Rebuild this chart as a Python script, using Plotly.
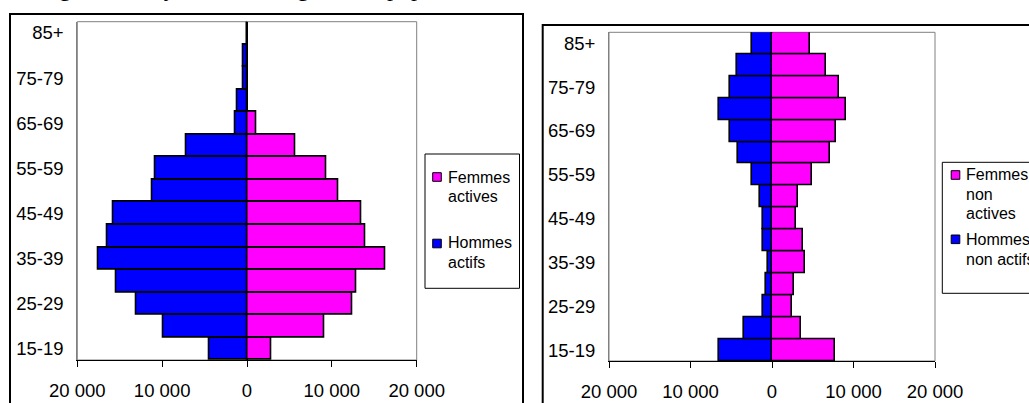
import plotly.graph_objects as go

W, H = 1029, 403

# ---------------- data ----------------
age_groups = ["15-19", "20-24", "25-29", "30-34", "35-39", "40-44", "45-49",
              "50-54", "55-59", "60-64", "65-69", "70-74", "75-79", "80-84", "85+"]
age_labels_shown = age_groups[::2]

femmes_actives = [2900, 9100, 12450, 12850, 16250, 13900, 13500,
                  10750, 9300, 5700, 1060, 0, 0, 0, 0]
hommes_actifs = [4450, 9900, 13100, 15450, 17550, 16450, 15800,
                 11200, 10800, 7200, 1330, 1100, 390, 470, 0]

femmes_non_actives = [7780, 3600, 2500, 2740, 4090, 3800, 2950,
                      3190, 4910, 7080, 7900, 9040, 8180, 6670, 4710]
hommes_non_actifs = [6500, 3430, 1100, 690, 490, 1100, 1100,
                     1510, 2410, 4130, 5190, 6500, 5190, 4330, 2410]

x_tickvals = [-20000, -10000, 0, 10000, 20000]
x_ticktext = ["20 000", "10 000", "0", "10 000", "20 000"]

title_text = ("Figure 12 : Pyramide des âges de la population "
              "active et non active selon le sexe et la commune, 1999")

PINK = "#FF00FF"
BLUE = "#0000FF"
FONT = "Liberation Sans, Arial, sans-serif"


def px(x):
    return x / W


def py(y):
    return 1 - y / H


fig = go.Figure()

bar_line = dict(color="black", width=1.6)
fig.add_trace(go.Bar(y=age_groups, x=femmes_actives, orientation="h",
                     marker=dict(color=PINK, line=bar_line),
                     name="Femmes actives", xaxis="x", yaxis="y", showlegend=False))
fig.add_trace(go.Bar(y=age_groups, x=[-v for v in hommes_actifs], orientation="h",
                     marker=dict(color=BLUE, line=bar_line),
                     name="Hommes actifs", xaxis="x", yaxis="y", showlegend=False))
fig.add_trace(go.Bar(y=age_groups, x=femmes_non_actives, orientation="h",
                     marker=dict(color=PINK, line=bar_line),
                     name="Femmes non actives", xaxis="x2", yaxis="y2", showlegend=False))
fig.add_trace(go.Bar(y=age_groups, x=[-v for v in hommes_non_actifs], orientation="h",
                     marker=dict(color=BLUE, line=bar_line),
                     name="Hommes non actifs", xaxis="x2", yaxis="y2", showlegend=False))

xax = dict(range=[-20000, 20000], tickvals=x_tickvals, ticktext=x_ticktext,
           ticks="outside", ticklen=6, tickcolor="black", tickwidth=1,
           showline=True, linecolor="black", linewidth=1,
           showgrid=False, zeroline=True, zerolinecolor="black", zerolinewidth=1,
           tickfont=dict(family=FONT, size=18.5, color="black"),
           ticklabelstandoff=8, automargin=False, fixedrange=True)
yax = dict(type="category", categoryorder="array", categoryarray=age_groups,
           range=[-0.5, 14.5], tickvals=age_labels_shown, ticks="",
           showline=True, linecolor="#808080", linewidth=1, showgrid=False,
           zeroline=False, tickfont=dict(family=FONT, size=18.5, color="black"),
           ticklabelstandoff=9, automargin=False, fixedrange=True)

fig.update_layout(
    width=W, height=H, margin=dict(l=0, r=0, t=0, b=0, autoexpand=False),
    paper_bgcolor="white", plot_bgcolor="white",
    barmode="relative", bargap=0, showlegend=False,
    xaxis=dict(domain=[px(77.3), px(416.7)], anchor="y", **xax),
    yaxis=dict(domain=[py(360), py(21.7)], anchor="x", **yax),
    xaxis2=dict(domain=[px(609), px(935)], anchor="y2", **xax),
    yaxis2=dict(domain=[py(361), py(32.3)], anchor="x2", **yax),
)

shapes = []
# plot-area grey frames
for xr, yr in (("x domain", "y domain"), ("x2 domain", "y2 domain")):
    shapes.append(dict(type="rect", xref=xr, yref=yr, x0=0, x1=1, y0=0, y1=1,
                       line=dict(color="#808080", width=1), layer="below"))
# outer chart boxes
shapes.append(dict(type="rect", xref="paper", yref="paper",
                   x0=px(10), x1=px(523), y0=py(415), y1=py(14),
                   line=dict(color="black", width=2)))
shapes.append(dict(type="rect", xref="paper", yref="paper",
                   x0=px(542.7), x1=px(1045), y0=py(415), y1=py(25),
                   line=dict(color="black", width=2)))
# legend boxes
shapes.append(dict(type="rect", xref="paper", yref="paper",
                   x0=px(425), x1=px(519.5), y0=py(288.3), y1=py(154),
                   line=dict(color="black", width=1), fillcolor="white"))
shapes.append(dict(type="rect", xref="paper", yref="paper",
                   x0=px(942.3), x1=px(1045), y0=py(293.3), y1=py(162.3),
                   line=dict(color="black", width=1), fillcolor="white"))


def square(cx, cy, color):
    return dict(type="rect", xref="paper", yref="paper",
                x0=px(cx - 4.3), x1=px(cx + 4.3), y0=py(cy + 4.3), y1=py(cy - 4.3),
                line=dict(color="black", width=1), fillcolor=color)


shapes += [square(437, 177, PINK), square(437, 243.5, BLUE),
           square(955.5, 175, PINK), square(955.5, 239.3, BLUE)]
fig.update_layout(shapes=shapes)

annotations = []


def text(x, y, s):
    annotations.append(dict(xref="paper", yref="paper", x=px(x), y=py(y),
                            xanchor="left", yanchor="middle", showarrow=False,
                            text=s, font=dict(family=FONT, size=16, color="black")))


text(446, 177, "Femmes")
text(446, 196.7, "actives")
text(446, 242.7, "Hommes")
text(446, 262.7, "actifs")
text(963.5, 174, "Femmes")
text(963.5, 194, "non")
text(963.5, 213, "actives")
text(963.5, 239, "Hommes")
text(963.5, 259.3, "non actifs")

annotations.append(dict(xref="paper", yref="paper", x=px(37), y=1,
                        xanchor="left", yanchor="bottom", yshift=-2.7, showarrow=False,
                        text=title_text,
                        font=dict(family="Liberation Serif, Times New Roman, serif",
                                  size=24, color="black")))
fig.update_layout(annotations=annotations)

fig.write_html("out.html")
